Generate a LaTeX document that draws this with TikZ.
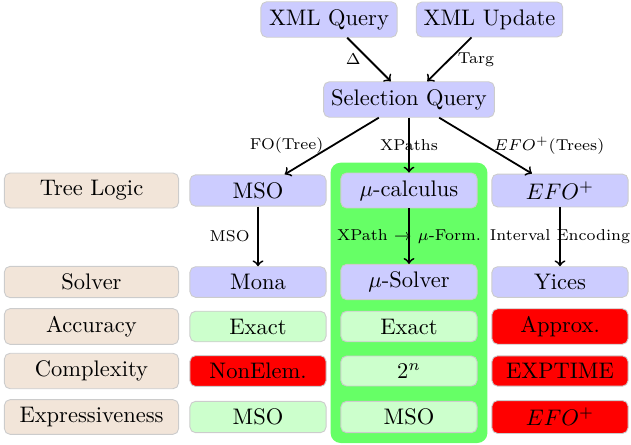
\documentclass[tikz,border=0pt]{standalone}
\usetikzlibrary{fit,backgrounds}
\begin{document}
\begin{tikzpicture}[x=0.4444pt,y=-0.4444pt,
  box/.style={draw=black!20, rounded corners=2.5pt, minimum width=60.5pt, inner sep=3.33pt},
  qbox/.style={box, fill=blue!20},
  gbox/.style={box, fill=green!20},
  rbox/.style={box, fill=red},
  lbox/.style={box, fill=brown!20, minimum width=77.4pt},
  conn/.style={->, thick},
  elab/.style={font=\scriptsize}]
\useasboundingbox (0,0) rectangle (631,445);
% top
\node[qbox] (xq) at (329,19.5) {XML Query};
\node[qbox] (xu) at (489.5,19.5) {XML Update};
\node[qbox] (sq) at (409,99.5) {Selection Query};
% row labels
\node[lbox] (l1) at (91.5,190.5) {Tree Logic};
\node[lbox] (l2) at (91.5,282) {Solver};
\node[lbox] (l3) at (91.5,326.5) {Accuracy};
\node[lbox] (l4) at (91.5,371) {Complexity};
\node[lbox] (l5) at (91.5,417) {Expressiveness};
% column 1
\node[qbox] (a1) at (258,190.5) {MSO};
\node[qbox] (a2) at (258,282) {Mona};
\node[gbox] (a3) at (258,326.5) {Exact};
\node[rbox] (a4) at (258,371) {NonElem.};
\node[gbox] (a5) at (258,417) {MSO};
% column 2
\node[qbox] (b1) at (409,190.5) {$\mu$-calculus};
\node[qbox] (b2) at (409,282) {$\mu$-Solver};
\node[gbox] (b3) at (409,326.5) {Exact};
\node[gbox] (b4) at (409,371) {$2^n$};
\node[gbox] (b5) at (409,417) {MSO};
% column 3
\node[qbox] (c1) at (560,190.5) {$EFO^+$};
\node[qbox] (c2) at (560,282) {Yices};
\node[rbox] (c3) at (560,326.5) {Approx.};
\node[rbox] (c4) at (560,371) {EXPTIME};
\node[rbox] (c5) at (560,417) {$EFO^+$};
\begin{scope}[on background layer]
\node[fit=(b1)(b5), inner sep=4.4pt, fill=green!60, rounded corners=4.5pt] (bg) {};
\end{scope}
% connectors
\draw[conn] (xq) -- node[elab,left] {$\Delta$} (sq);
\draw[conn] (xu) -- node[elab,right] {Targ} (sq);
\draw[conn] (sq) -- node[elab,left] {FO(Tree)} (a1);
\draw[conn] (sq) -- node[elab] {XPaths} (b1);
\draw[conn] (sq) -- node[elab,right] {$EFO^+$(Trees)} (c1);
\draw[conn] (a1) -- node[elab,left] {MSO} (a2);
\draw[conn] (b1) -- node[elab] {XPath $\rightarrow$ $\mu$-Form.} (b2);
\draw[conn] (c1) -- node[elab] {Interval Encoding} (c2);
\end{tikzpicture}
\end{document}
